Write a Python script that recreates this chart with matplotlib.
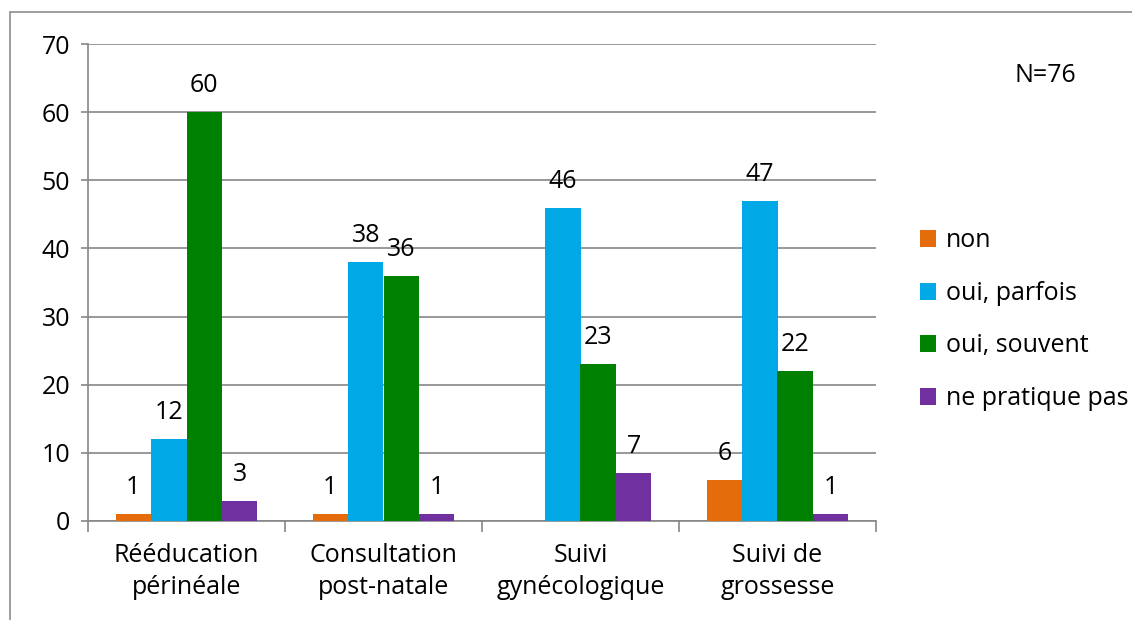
import numpy as np
import matplotlib.pyplot as plt
from matplotlib.patches import Rectangle

plt.rcParams['font.family'] = ['Open Sans', 'DejaVu Sans']

categories = ['Rééducation\npérinéale', 'Consultation\npost-natale',
              'Suivi\ngynécologique', 'Suivi de\ngrossesse']
series_names = ['non', 'oui, parfois', 'oui, souvent', 'ne pratique pas']
non = [1, 1, None, 6]
oui_parfois = [12, 38, 46, 47]
oui_souvent = [60, 36, 23, 22]
ne_pratique_pas = [3, 1, 7, 1]
colors = ['#E46C0A', '#00A9E6', '#008000', '#7030A0']
yticks = [0, 10, 20, 30, 40, 50, 60, 70]

fs = 18
fig = plt.figure(figsize=(11.32, 6.2), dpi=100)
ax = fig.add_axes([88/1132, 1-521/620, 788/1132, 477/620])

# outer chart frame
fig.patches.append(Rectangle((10/1132, -0.1), 1.2, 1.1-12/620,
                             transform=fig.transFigure, fill=False,
                             edgecolor='#8c8c8c', linewidth=1.2))

x = np.arange(len(categories))
w = 0.18
gray = '#868686'
for i, (vals, name, col) in enumerate(zip([non, oui_parfois, oui_souvent, ne_pratique_pas],
                                          series_names, colors)):
    xs = x + (i - 1.5) * w
    h = [v if v is not None else 0 for v in vals]
    ax.bar(xs, h, width=w, color=col, label=name, zorder=3)
    for xi, v in zip(xs, vals):
        if v is None:
            continue
        ax.annotate(str(v), (xi, v), xytext=(0, 19), textcoords='offset points',
                    ha='center', va='center', fontsize=fs, color='black')

ax.set_xlim(-0.5, 3.5)
ax.set_ylim(0, 70)
ax.set_yticks(yticks)
ax.yaxis.grid(True, color=gray, linewidth=1.2, zorder=0)
ax.set_axisbelow(True)
for s in ['top', 'right']:
    ax.spines[s].set_visible(False)
for s in ['left', 'bottom']:
    ax.spines[s].set_color(gray)
    ax.spines[s].set_linewidth(1.2)
ax.tick_params(axis='y', colors=gray, length=5, width=1.2, labelsize=fs,
               labelcolor='black', pad=8)
ax.set_xticks(np.arange(-0.5, 4.0, 1.0))
ax.set_xticklabels([])
ax.set_xticks(x, minor=True)
ax.set_xticklabels(categories, minor=True, fontsize=fs, linespacing=1.37)
ax.tick_params(axis='x', which='major', colors=gray, length=8, width=1.2)
ax.tick_params(axis='x', which='minor', length=0, pad=16)

ax.legend(loc='center left', bbox_to_anchor=(1.043, 0.422), frameon=False,
          fontsize=fs, handlelength=0.65, handleheight=0.65, handletextpad=0.4,
          labelspacing=1.1, borderaxespad=0)
fig.text(1045/1132, 1-75/620, 'N=76', ha='center', va='center', fontsize=fs)

fig.savefig('out.png', dpi=100)
